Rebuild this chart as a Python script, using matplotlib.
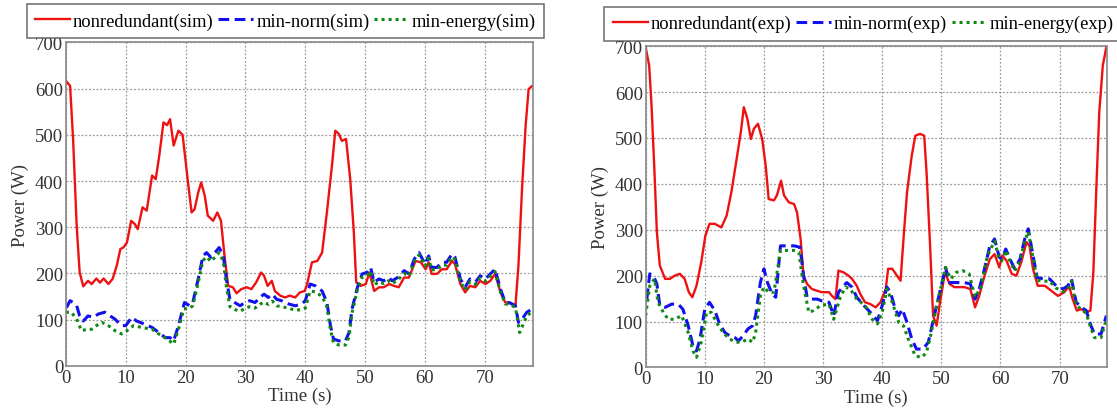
import numpy as np
import matplotlib
matplotlib.use("Agg")
import matplotlib.pyplot as plt

plt.rcParams['font.family'] = ['Liberation Serif', 'DejaVu Serif']

# ---- simulation panel ----
sim_red_t = [0, 0.7, 1.2, 1.8, 2.3, 2.9, 3.7, 4.3, 5.1, 5.7,
             6.3, 7.1, 7.8, 8.5, 9.1, 9.6, 10.2, 10.9, 11.5, 12.0,
             12.8, 13.5, 14.4, 15.0, 15.6, 16.3, 16.9, 17.4, 18.0, 18.8,
             19.5, 20.4, 21.0, 21.5, 22.1, 22.6, 23.2, 23.7, 24.6, 25.3,
             25.9, 26.5, 27.1, 27.9, 28.5, 29.3, 30.2, 31.0, 31.8, 32.6,
             33.1, 33.7, 34.4, 34.9, 35.8, 36.6, 37.4, 38.3, 39.1, 39.9,
             40.3, 41.1, 42.0, 42.8, 43.6, 44.5, 45.0, 45.6, 46.1, 46.8,
             47.5, 48.1, 48.5, 49.2, 50.1, 50.7, 51.5, 52.3, 53.1, 54.0,
             54.8, 55.6, 56.5, 57.3, 58.4, 59.3, 60.1, 60.6, 61.1, 62.0,
             62.8, 63.6, 64.5, 65.0, 65.9, 66.7, 67.5, 68.4, 69.2, 70.1,
             70.9, 71.7, 72.6, 73.4, 74.2, 75.1, 75.6, 76.2, 76.8, 77.3,
             77.9]
sim_red_p = [617, 606, 491, 303, 202, 172, 184, 177, 189, 180,
             189, 177, 188, 217, 253, 256, 267, 314, 307, 296,
             343, 336, 412, 404, 455, 527, 521, 534, 477, 509,
             500, 397, 332, 339, 375, 397, 368, 325, 314, 332,
             314, 238, 173, 170, 157, 166, 170, 166, 181, 202,
             195, 173, 184, 162, 152, 148, 152, 148, 159, 162,
             177, 224, 227, 245, 332, 440, 509, 502, 487, 491,
             404, 289, 181, 173, 177, 202, 162, 170, 170, 177,
             173, 170, 191, 191, 227, 224, 209, 224, 199, 199,
             209, 209, 227, 220, 177, 159, 173, 170, 184, 177,
             184, 199, 159, 137, 137, 130, 217, 383, 520, 599,
             606]

sim_blue_t = [0.1, 0.7, 1.2, 1.8, 2.3, 2.9, 3.7, 4.6, 5.4, 6.5,
              7.4, 8.2, 9.3, 10.0, 11.0, 11.8, 13.2, 14.4, 15.5, 16.6,
              17.4, 18.0, 18.8, 19.8, 20.7, 21.2, 22.1, 22.9, 23.5, 24.2,
              24.9, 25.6, 26.3, 26.8, 27.4, 28.2, 29.1, 29.9, 30.7, 31.6,
              32.4, 33.1, 33.8, 34.5, 35.2, 36.0, 37.2, 38.3, 39.4, 40.0,
              40.8, 41.7, 42.8, 43.6, 44.2, 44.7, 45.6, 46.7, 47.3, 47.8,
              48.7, 49.5, 50.3, 50.9, 51.5, 52.3, 53.1, 53.9, 54.5, 55.4,
              56.5, 57.3, 58.2, 59.0, 60.0, 60.6, 61.1, 62.0, 62.8, 63.6,
              64.5, 65.0, 65.9, 66.7, 67.5, 68.4, 69.2, 70.1, 70.9, 71.7,
              72.6, 73.4, 74.2, 75.1, 75.6, 76.2, 77.0, 77.9]
sim_blue_p = [126, 141, 137, 130, 108, 97, 108, 105, 112, 116,
              108, 101, 87, 87, 105, 97, 90, 83, 72, 61,
              61, 54, 87, 137, 130, 137, 188, 238, 245, 235,
              245, 256, 238, 188, 144, 137, 130, 137, 141, 137,
              148, 155, 148, 155, 144, 141, 134, 130, 134, 141,
              177, 173, 162, 137, 87, 58, 54, 54, 72, 123,
              170, 199, 202, 213, 181, 188, 184, 191, 184, 191,
              206, 199, 231, 245, 220, 238, 213, 213, 224, 224,
              242, 235, 188, 170, 188, 181, 195, 188, 199, 209,
              166, 137, 136, 130, 94, 101, 116, 123]

sim_green_t = [0, 0.9, 1.8, 2.6, 3.5, 4.3, 5.1, 6.0, 7.1, 8.2,
               9.3, 10.2, 11.3, 12.7, 14.4, 15.5, 16.9, 18.0, 18.8, 19.7,
               20.7, 21.2, 22.1, 22.9, 23.5, 24.2, 24.9, 25.6, 26.3, 26.8,
               27.4, 28.2, 29.1, 29.9, 30.7, 31.6, 32.4, 33.1, 33.8, 34.5,
               35.2, 36.0, 37.2, 38.3, 39.4, 40.0, 40.8, 41.7, 42.8, 43.6,
               44.2, 44.7, 45.6, 46.7, 47.3, 47.8, 48.7, 49.5, 50.3, 50.9,
               51.5, 52.3, 53.1, 53.9, 54.5, 55.4, 56.5, 57.3, 58.2, 59.0,
               60.0, 60.6, 61.1, 62.0, 62.8, 63.6, 64.5, 65.0, 65.9, 66.7,
               67.5, 68.4, 69.2, 70.1, 70.9, 71.7, 72.6, 73.4, 74.2, 75.1,
               75.8, 76.4, 77.0, 77.9]
sim_green_p = [116, 116, 101, 76, 79, 79, 87, 94, 87, 76,
               69, 76, 87, 83, 79, 69, 58, 47, 79, 123,
               125, 130, 180, 228, 236, 226, 235, 245, 226, 172,
               128, 122, 118, 124, 128, 125, 133, 138, 133, 140,
               130, 128, 125, 120, 122, 125, 162, 160, 150, 128,
               78, 50, 45, 45, 62, 115, 165, 192, 195, 205,
               175, 182, 178, 184, 178, 185, 200, 194, 226, 240,
               216, 233, 208, 208, 218, 218, 236, 230, 182, 164,
               182, 176, 190, 183, 194, 204, 160, 134, 133, 126,
               72, 90, 108, 118]

# ---- experiment panel ----
exp_red_t = [0, 0.6, 1.0, 1.5, 1.9, 2.4, 3.3, 4.1, 4.9, 5.8,
             6.6, 7.3, 7.9, 8.6, 9.4, 10.1, 10.8, 11.7, 12.8, 13.7,
             14.5, 15.3, 16.1, 16.6, 17.2, 17.8, 18.3, 19.0, 19.7, 20.3,
             20.8, 21.7, 22.2, 22.9, 23.4, 24.2, 25.1, 25.6, 26.2, 26.7,
             27.3, 28.1, 29.0, 29.8, 31.0, 31.5, 32.1, 32.6, 33.5, 34.3,
             34.9, 35.7, 36.3, 37.1, 38.0, 38.9, 39.7, 40.6, 41.0, 41.7,
             42.5, 43.1, 43.6, 44.2, 45.0, 45.6, 46.4, 47.1, 47.5, 48.1,
             48.6, 49.2, 49.7, 50.6, 51.4, 52.2, 53.1, 53.9, 54.9, 55.7,
             56.4, 57.3, 58.2, 59.0, 59.8, 60.3, 61.0, 61.9, 62.7, 63.5,
             64.4, 64.9, 65.5, 66.3, 67.5, 68.6, 69.7, 70.8, 71.6, 72.2,
             72.9, 73.7, 74.5, 75.2, 75.7, 76.2, 76.7, 77.3, 77.9]
exp_red_p = [698, 658, 571, 425, 295, 222, 193, 193, 200, 204,
             193, 164, 153, 178, 229, 287, 313, 313, 305, 331,
             382, 447, 513, 567, 542, 498, 520, 531, 498, 440,
             367, 364, 375, 407, 375, 360, 356, 338, 280, 200,
             182, 171, 167, 164, 164, 156, 149, 211, 207, 200,
             193, 178, 160, 142, 138, 131, 142, 171, 215, 215,
             200, 189, 280, 382, 462, 505, 509, 505, 425, 265,
             113, 91, 135, 207, 182, 175, 175, 175, 171, 131,
             156, 200, 236, 247, 218, 244, 233, 204, 200, 229,
             273, 265, 215, 178, 178, 167, 156, 164, 178, 149,
             124, 127, 120, 124, 207, 389, 556, 658, 698]

exp_blue_t = [0.2, 0.7, 1.3, 1.9, 2.4, 3.3, 4.4, 5.5, 6.3, 7.2,
              8.0, 8.6, 9.2, 10.0, 10.8, 11.7, 12.5, 13.4, 14.2, 15.1,
              15.7, 16.5, 17.3, 18.1, 18.6, 19.4, 20.0, 20.6, 21.4, 22.0,
              22.8, 23.9, 25.1, 26.1, 26.7, 27.3, 28.1, 29.0, 29.8, 31.0,
              31.8, 32.6, 33.5, 34.0, 34.9, 35.7, 36.9, 38.0, 39.2, 40.0,
              40.8, 41.4, 42.2, 42.8, 43.4, 44.2, 45.0, 45.8, 46.9, 47.8,
              48.3, 49.2, 50.0, 50.7, 51.4, 52.5, 53.9, 54.9, 55.7, 56.4,
              57.3, 58.2, 59.0, 59.8, 60.2, 60.9, 61.6, 62.4, 63.3, 64.1,
              64.7, 65.4, 66.2, 67.2, 68.3, 69.4, 70.6, 71.4, 72.0, 72.8,
              73.7, 74.5, 75.3, 75.9, 77.0, 77.9]
exp_blue_p = [149, 204, 200, 182, 135, 131, 138, 138, 127, 91,
              47, 36, 62, 127, 142, 124, 95, 76, 69, 65,
              58, 69, 84, 91, 113, 185, 215, 185, 160, 153,
              265, 265, 265, 262, 200, 153, 149, 149, 145, 142,
              113, 164, 178, 185, 175, 153, 135, 120, 102, 135,
              175, 164, 127, 113, 127, 98, 62, 40, 40, 55,
              84, 135, 178, 218, 185, 185, 185, 182, 149, 171,
              215, 265, 280, 240, 236, 258, 236, 215, 236, 280,
              302, 251, 196, 193, 193, 178, 171, 178, 193, 142,
              131, 124, 91, 73, 73, 113]

exp_green_t = [0, 0.7, 1.5, 2.1, 3.0, 3.8, 4.9, 6.1, 7.2, 8.0,
               8.6, 9.4, 10.3, 11.1, 12.0, 13.1, 14.2, 15.3, 16.2, 17.3,
               18.1, 18.6, 19.4, 20.0, 20.8, 21.7, 22.8, 25.1, 25.9, 26.7,
               27.6, 28.4, 29.6, 31.0, 31.8, 32.9, 33.8, 34.6, 35.7, 37.1,
               38.3, 39.2, 40.0, 40.8, 41.7, 42.8, 43.6, 44.4, 45.6, 46.7,
               47.5, 48.3, 49.2, 50.0, 50.7, 51.6, 52.5, 53.6, 54.7, 55.7,
               56.7, 57.8, 59.0, 59.8, 60.2, 60.9, 61.6, 62.4, 63.3, 64.1,
               64.7, 65.4, 66.2, 67.2, 68.3, 69.4, 70.6, 71.4, 72.0, 72.8,
               73.7, 74.5, 75.3, 75.9, 77.0, 77.9]
exp_green_p = [113, 178, 193, 142, 120, 105, 105, 113, 76, 36,
               22, 55, 120, 120, 98, 76, 62, 55, 55, 62,
               55, 76, 156, 175, 164, 164, 255, 255, 251, 178,
               120, 124, 135, 138, 105, 153, 175, 171, 149, 135,
               105, 95, 120, 171, 142, 98, 91, 62, 25, 22,
               33, 76, 135, 178, 218, 193, 207, 211, 204, 153,
               175, 244, 275, 235, 232, 255, 232, 210, 232, 275,
               296, 246, 190, 188, 188, 173, 165, 172, 188, 136,
               126, 118, 85, 65, 65, 105]

xticks = [0, 10, 20, 30, 40, 50, 60, 70]
yticks = [0, 100, 200, 300, 400, 500, 600, 700]

RED = '#ee1111'
BLUE = '#1111ee'
GREEN = '#118811'
GRID = '#999999'

fig = plt.figure(figsize=(11.17, 4.14), dpi=100)
ax1 = fig.add_axes([0.059, 0.114, 0.418, 0.781])
ax2 = fig.add_axes([0.578, 0.110, 0.413, 0.776])


def draw(ax, red, blue, green, tag, legend_anchor):
    l1, = ax.plot(red[0], red[1], color=RED, lw=1.7, label=f'nonredundant({tag})')
    l2, = ax.plot(blue[0], blue[1], color=BLUE, lw=2.2, ls=(0, (3.5, 1.8)),
                  label=f'min-norm({tag})')
    l3, = ax.plot(green[0], green[1], color=GREEN, lw=2.2, ls=(0, (1, 1.3)),
                  label=f'min-energy({tag})')
    ax.set_xlim(0, 78)
    ax.set_ylim(0, 700)
    ax.set_xticks(xticks)
    ax.set_yticks(yticks)
    ax.grid(True, color=GRID, ls=(0, (1.5, 1.5)), lw=0.9)
    ax.tick_params(length=0, labelsize=13.5, pad=2, colors='#333333')
    for s in ax.spines.values():
        s.set_color('#888888')
        s.set_linewidth(1.2)
    ax.set_xlabel('Time (s)', fontsize=13.5, labelpad=1, color='#333333')
    ax.set_ylabel('Power (W)', fontsize=13.5, labelpad=4, color='#333333')
    leg = fig.legend(handles=[l1, l2, l3], loc='upper left', ncol=3,
                     bbox_to_anchor=legend_anchor,
                     fontsize=13.3, frameon=True, fancybox=False,
                     handlelength=1.9, handletextpad=0.15, columnspacing=0.25,
                     borderpad=0.45, borderaxespad=0)
    leg.get_frame().set_edgecolor('#555555')
    leg.get_frame().set_linewidth(1.2)


draw(ax1, (sim_red_t, sim_red_p), (sim_blue_t, sim_blue_p),
     (sim_green_t, sim_green_p), 'sim', (0.024, 0.988))
draw(ax2, (exp_red_t, exp_red_p), (exp_blue_t, exp_blue_p),
     (exp_green_t, exp_green_p), 'exp', (0.541, 0.981))

fig.savefig('out.png', dpi=100)
